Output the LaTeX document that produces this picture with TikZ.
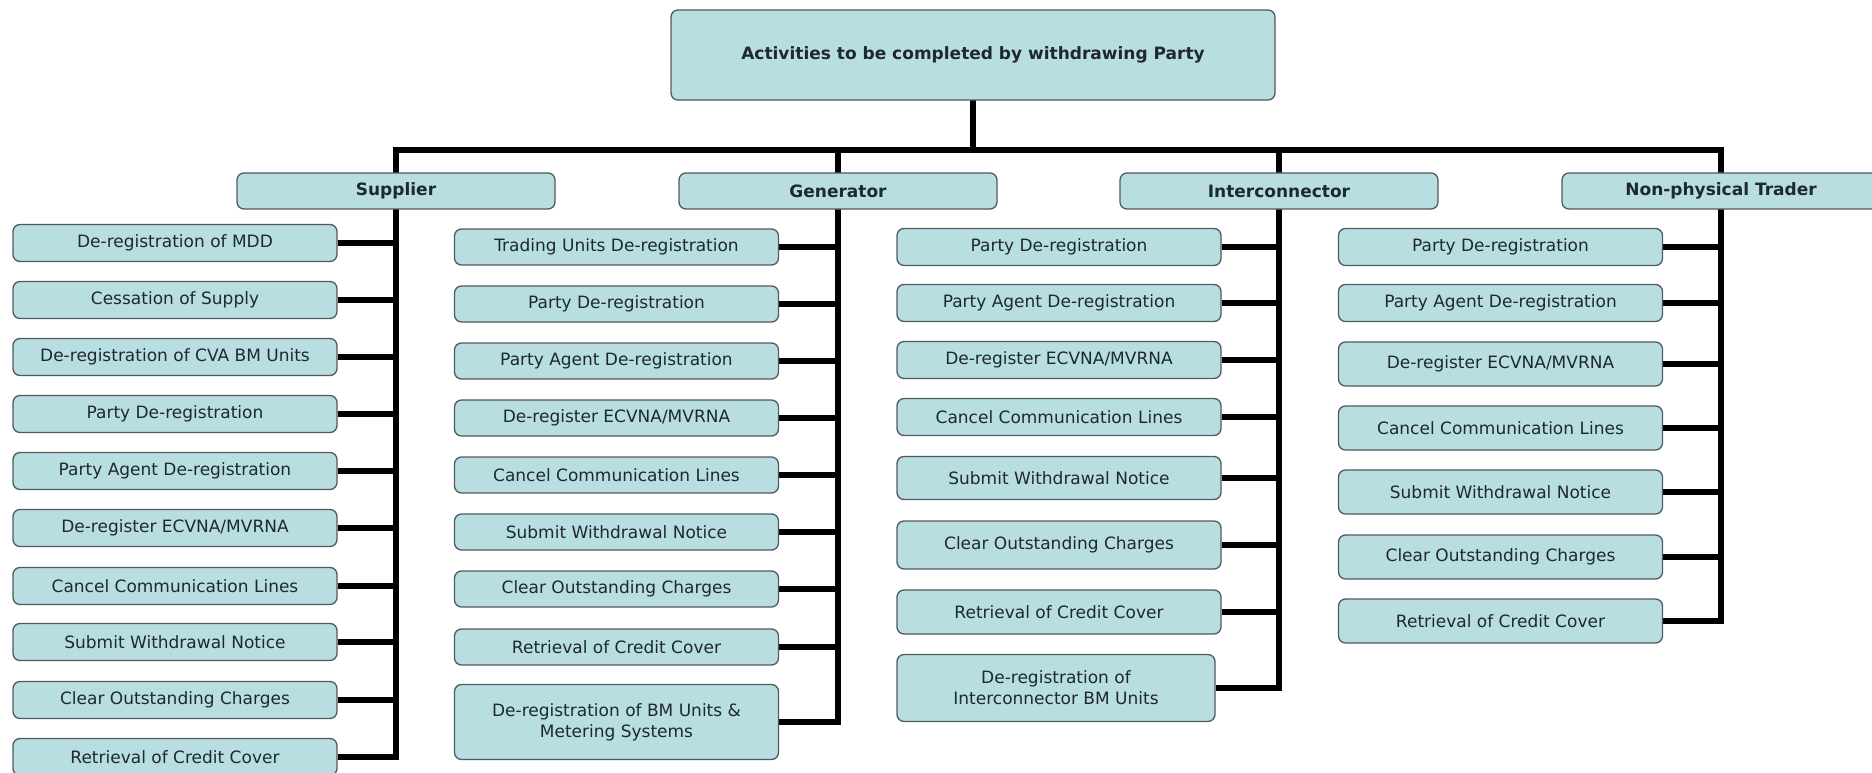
\documentclass[tikz,border=0pt]{standalone}
\usepackage{fontspec}
\setmainfont{DejaVu Sans}
\usetikzlibrary{backgrounds}
\definecolor{boxfill}{RGB}{185,222,226}
\definecolor{boxline}{RGB}{80,90,95}
\definecolor{txt}{RGB}{30,40,50}
\tikzset{
  base/.style={draw=boxline, line width=1.3pt, fill=boxfill, rounded corners=7pt,
    inner sep=0pt, align=center, text=txt, font=\fontsize{17}{21}\selectfont},
  child/.style={base, minimum width=324pt, minimum height=37pt},
  childB/.style={base, minimum width=324pt, minimum height=44pt},
  head/.style={base, minimum width=318pt, minimum height=36pt, font=\fontsize{17}{21}\selectfont\bfseries},
  conn/.style={line width=6.5pt, black, line cap=rect},
}
\begin{document}
\begin{tikzpicture}[x=1pt,y=-1pt]
\useasboundingbox (0,0) rectangle (1872,773);
\clip (0,0) rectangle (1872,773);
% top
\node[base, minimum width=604pt, minimum height=90pt, font=\fontsize{17}{21}\selectfont\bfseries] (top) at (973,55) {Activities to be completed by withdrawing Party};
% level 1
\node[head] (sup) at (396,191) {Supplier};
\node[head] (gen) at (838,191) {Generator};
\node[head] (int) at (1279,191) {Interconnector};
\node[head] (npt) at (1721,191) {Non-physical Trader};
% Supplier children
\node[child] (s0) at (175,243) {De-registration of MDD};
\node[child] (s1) at (175,300) {Cessation of Supply};
\node[child] (s2) at (175,357) {De-registration of CVA BM Units};
\node[child] (s3) at (175,414) {Party De-registration};
\node[child] (s4) at (175,471) {Party Agent De-registration};
\node[child] (s5) at (175,528) {De-register ECVNA/MVRNA};
\node[child] (s6) at (175,586) {Cancel Communication Lines};
\node[child] (s7) at (175,642) {Submit Withdrawal Notice};
\node[child] (s8) at (175,700) {Clear Outstanding Charges};
\node[child] (s9) at (175,757) {Retrieval of Credit Cover};
% Generator children
\node[child,minimum height=36pt] (g0) at (616.5,247) {Trading Units De-registration};
\node[child,minimum height=36pt] (g1) at (616.5,304) {Party De-registration};
\node[child,minimum height=36pt] (g2) at (616.5,361) {Party Agent De-registration};
\node[child,minimum height=36pt] (g3) at (616.5,418) {De-register ECVNA/MVRNA};
\node[child,minimum height=36pt] (g4) at (616.5,475) {Cancel Communication Lines};
\node[child,minimum height=36pt] (g5) at (616.5,532) {Submit Withdrawal Notice};
\node[child,minimum height=36pt] (g6) at (616.5,589) {Clear Outstanding Charges};
\node[child,minimum height=36pt] (g7) at (616.5,647) {Retrieval of Credit Cover};
\node[child,minimum height=75pt] (g8) at (616.5,722) {De-registration of BM Units \&\\Metering Systems};
% Interconnector children
\node[child] (i0) at (1059,247) {Party De-registration};
\node[child] (i1) at (1059,303) {Party Agent De-registration};
\node[child] (i2) at (1059,360) {De-register ECVNA/MVRNA};
\node[child] (i3) at (1059,417) {Cancel Communication Lines};
\node[child,minimum height=43pt] (i4) at (1059,478) {Submit Withdrawal Notice};
\node[child,minimum height=48pt] (i5) at (1059,545) {Clear Outstanding Charges};
\node[child,minimum height=44pt] (i6) at (1059,612) {Retrieval of Credit Cover};
\node[child,minimum height=67pt,minimum width=318pt] (i7) at (1056,688) {De-registration of\\Interconnector BM Units};
% Non-physical children
\node[child] (n0) at (1500.5,247) {Party De-registration};
\node[child] (n1) at (1500.5,303) {Party Agent De-registration};
\node[childB] (n2) at (1500.5,364) {De-register ECVNA/MVRNA};
\node[childB] (n3) at (1500.5,428) {Cancel Communication Lines};
\node[childB] (n4) at (1500.5,492) {Submit Withdrawal Notice};
\node[childB] (n5) at (1500.5,557) {Clear Outstanding Charges};
\node[childB] (n6) at (1500.5,621) {Retrieval of Credit Cover};
\coordinate (busL) at (396,150);
\coordinate (busR) at (1721,150);
\begin{scope}[on background layer]
\fill[white] (0,0) rectangle (1872,773);
\draw[conn] (busL) -- (busR);
\draw[conn] (top.south) -- (top.south |- busL);
\draw[conn] (sup |- busL) -- (sup |- s9);
\draw[conn] (gen |- busL) -- (gen |- g8);
\draw[conn] (int |- busL) -- (int |- i7);
\draw[conn] (npt |- busL) -- (npt |- n6);
\foreach \k in {0,...,9} \draw[conn, line cap=butt] (s\k.east) -- (s\k -| sup);
\foreach \k in {0,...,8} \draw[conn, line cap=butt] (g\k.east) -- (g\k -| gen);
\foreach \k in {0,...,7} \draw[conn, line cap=butt] (i\k.east) -- (i\k -| int);
\foreach \k in {0,...,6} \draw[conn, line cap=butt] (n\k.east) -- (n\k -| npt);
\end{scope}
\end{tikzpicture}
\end{document}
